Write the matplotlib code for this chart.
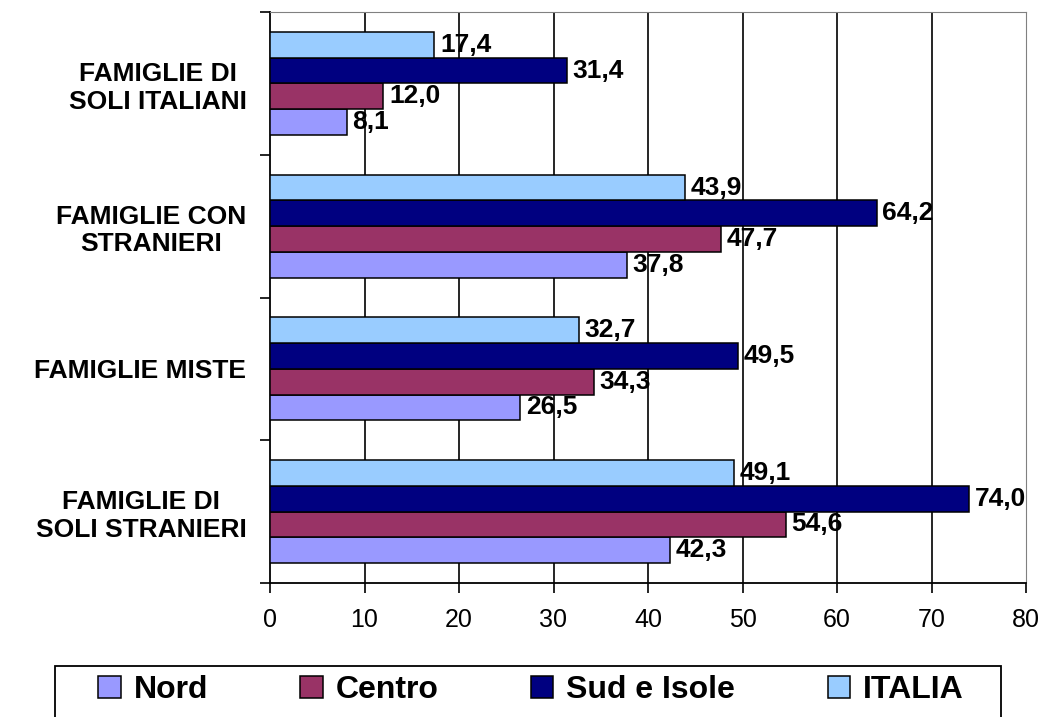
import matplotlib
matplotlib.use("Agg")
import matplotlib.pyplot as plt
from matplotlib.patches import Rectangle
import numpy as np

plt.rcParams["font.family"] = ["Liberation Sans", "DejaVu Sans"]

# categories from top to bottom
categories = ["FAMIGLIE DI\nSOLI ITALIANI", "FAMIGLIE CON\nSTRANIERI",
              "FAMIGLIE MISTE", "FAMIGLIE DI\nSOLI STRANIERI"]
series = ["Nord", "Centro", "Sud e Isole", "ITALIA"]
nord = [8.1, 37.8, 26.5, 42.3]
centro = [12.0, 47.7, 34.3, 54.6]
sud = [31.4, 64.2, 49.5, 74.0]
italia = [17.4, 43.9, 32.7, 49.1]
colors = ["#9999FF", "#993366", "#000080", "#99CCFF"]
xticks = [0, 10, 20, 30, 40, 50, 60, 70, 80]

W, H = 1042, 717
fig = plt.figure(figsize=(W/100, H/100), dpi=100)
ax = fig.add_axes([270/W, 1-583/H, 756/W, 571/H])

y = np.arange(len(categories))
h = 0.18
offsets = [1.5*h, 0.5*h, -0.5*h, -1.5*h]   # Nord lowest, ITALIA on top
for vals, col, off, name in zip([nord, centro, sud, italia], colors, offsets, series):
    bars = ax.barh(y + off, vals, h, color=col, edgecolor="black", lw=1.1,
                   label=name, zorder=3)
    for b, v in zip(bars, vals):
        ax.annotate(f"{v:.1f}".replace(".", ","), (v, b.get_y() + b.get_height()/2),
                    xytext=(4, 0), textcoords="offset points", va="center", ha="left",
                    fontsize=19, fontweight="bold", zorder=4)

ax.set_xlim(0, 80)
ax.set_ylim(3.5, -0.5)
ax.set_xticks(xticks)
ax.set_xticklabels([str(t) for t in xticks], fontsize=18)
ax.tick_params(axis="x", length=7, width=1.2, pad=11, direction="out")

# boundaries as major ticks, labels on minor ticks at category centres
ax.set_yticks(np.arange(-0.5, 4, 1))
ax.set_yticklabels([])
ax.tick_params(axis="y", which="major", length=7, width=1.2)
ax.set_yticks(y, minor=True)
ax.set_yticklabels(categories, minor=True, fontsize=19, fontweight="bold")
ax.tick_params(axis="y", which="minor", length=0, pad=17)
for t in ax.get_yticklabels(minor=True):
    t.set_multialignment("center")

for gx in xticks[1:-1]:
    ax.axvline(gx, color="black", lw=1.2, zorder=1)

ax.spines["left"].set_linewidth(1.3)
ax.spines["bottom"].set_linewidth(1.3)
ax.spines["top"].set_color("#808080")
ax.spines["right"].set_color("#808080")

# legend box runs off the bottom of the image
fig.patches.append(Rectangle((55/W, -0.05), 946/W, 1-666/H + 0.05, transform=fig.transFigure,
                             fill=False, edgecolor="black", lw=1.3))
handles, labels = ax.get_legend_handles_labels()
fig.legend(handles, labels, loc="center", ncol=4, bbox_to_anchor=(531/W, 1-690/H),
           prop={"weight": "bold", "size": 23}, frameon=False,
           handlelength=0.7, handleheight=0.7, handletextpad=0.4, columnspacing=2.9,
           borderpad=0, borderaxespad=0)

fig.savefig("out.png", dpi=100)
